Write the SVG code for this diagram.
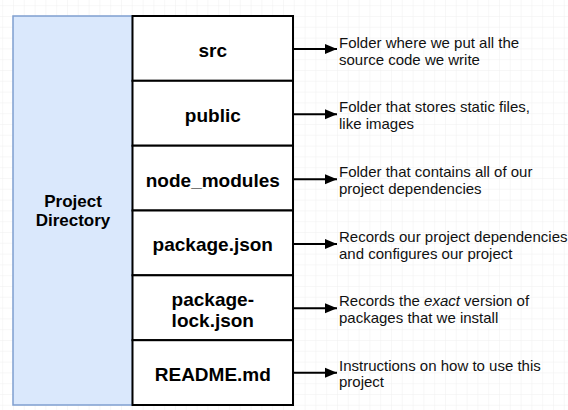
<svg xmlns="http://www.w3.org/2000/svg" width="568" height="410" viewBox="0 0 568 410">
<defs>
<pattern id="grid" x="2.2" y="5.2" width="10.8" height="10.8" patternUnits="userSpaceOnUse">
<path d="M0 0H10.8M0 0V10.8" fill="none" stroke="#efefef" stroke-width="1"/>
</pattern>
<marker id="arr" markerUnits="userSpaceOnUse" markerWidth="13" markerHeight="12" refX="12" refY="6" orient="auto">
<path d="M0 1 L12 6 L0 11 Z" fill="#000"/>
</marker>
<style>
.cell{fill:#fff;stroke:#000;stroke-width:2}
.lbl{font-family:"Liberation Sans",Arial,Helvetica,sans-serif;font-weight:bold;font-size:19px;fill:#000;text-anchor:middle}
.desc{font-family:"Liberation Sans",Arial,Helvetica,sans-serif;font-size:15px;fill:#111}
.conn{stroke:#000;stroke-width:2;fill:none;marker-end:url(#arr)}
</style>
</defs>
<rect width="568" height="410" fill="#fff"/>
<rect width="568" height="410" fill="url(#grid)"/>
<g id="project-directory">
<rect x="13" y="16" width="119.5" height="389" fill="#dae8fc" stroke="#7f9fd0" stroke-width="1.5"/>
<text class="lbl" style="font-size:17px" x="73" y="207">Project</text>
<text class="lbl" style="font-size:17px" x="73" y="226">Directory</text>
</g>
<g id="src">
<rect class="cell" x="132.5" y="16" width="160.5" height="64.8"/>
<text class="lbl" x="212.8" y="57">src</text>
</g>
<g id="public">
<rect class="cell" x="132.5" y="80.8" width="160.5" height="64.9"/>
<text class="lbl" x="212.8" y="121.5">public</text>
</g>
<g id="node_modules">
<rect class="cell" x="132.5" y="145.7" width="160.5" height="64.8"/>
<text class="lbl" x="212.8" y="186.5">node_modules</text>
</g>
<g id="package-json">
<rect class="cell" x="132.5" y="210.5" width="160.5" height="64.8"/>
<text class="lbl" x="212.8" y="251.3">package.json</text>
</g>
<g id="package-lock-json">
<rect class="cell" x="132.5" y="275.3" width="160.5" height="64.9"/>
<text class="lbl" x="212.8" y="305.8">package-</text>
<text class="lbl" x="212.8" y="326.7">lock.json</text>
</g>
<g id="readme">
<rect class="cell" x="132.5" y="340.2" width="160.5" height="64.8"/>
<text class="lbl" x="212.8" y="380.5">README.md</text>
</g>
<g id="connectors">
<line class="conn" x1="293" y1="49" x2="337" y2="49"/>
<line class="conn" x1="293" y1="114.3" x2="337" y2="114.3"/>
<line class="conn" x1="293" y1="179.3" x2="337" y2="179.3"/>
<line class="conn" x1="293" y1="244" x2="337" y2="244"/>
<line class="conn" x1="293" y1="308.3" x2="337" y2="308.3"/>
<line class="conn" x1="293" y1="372.7" x2="337" y2="372.7"/>
</g>
<g id="descriptions">
<text class="desc" x="339" y="48">Folder where we put all the</text>
<text class="desc" x="339" y="64.5">source code we write</text>
<text class="desc" x="339" y="112">Folder that stores static files,</text>
<text class="desc" x="339" y="128.5">like images</text>
<text class="desc" x="339" y="177">Folder that contains all of our</text>
<text class="desc" x="339" y="193.5">project dependencies</text>
<text class="desc" x="339" y="242">Records our project dependencies</text>
<text class="desc" x="339" y="258.5">and configures our project</text>
<text class="desc" x="339" y="306">Records the <tspan font-style="italic">exact</tspan> version of</text>
<text class="desc" x="339" y="322.5">packages that we install</text>
<text class="desc" x="339" y="370.5">Instructions on how to use this</text>
<text class="desc" x="339" y="387">project</text>
</g>
</svg>
